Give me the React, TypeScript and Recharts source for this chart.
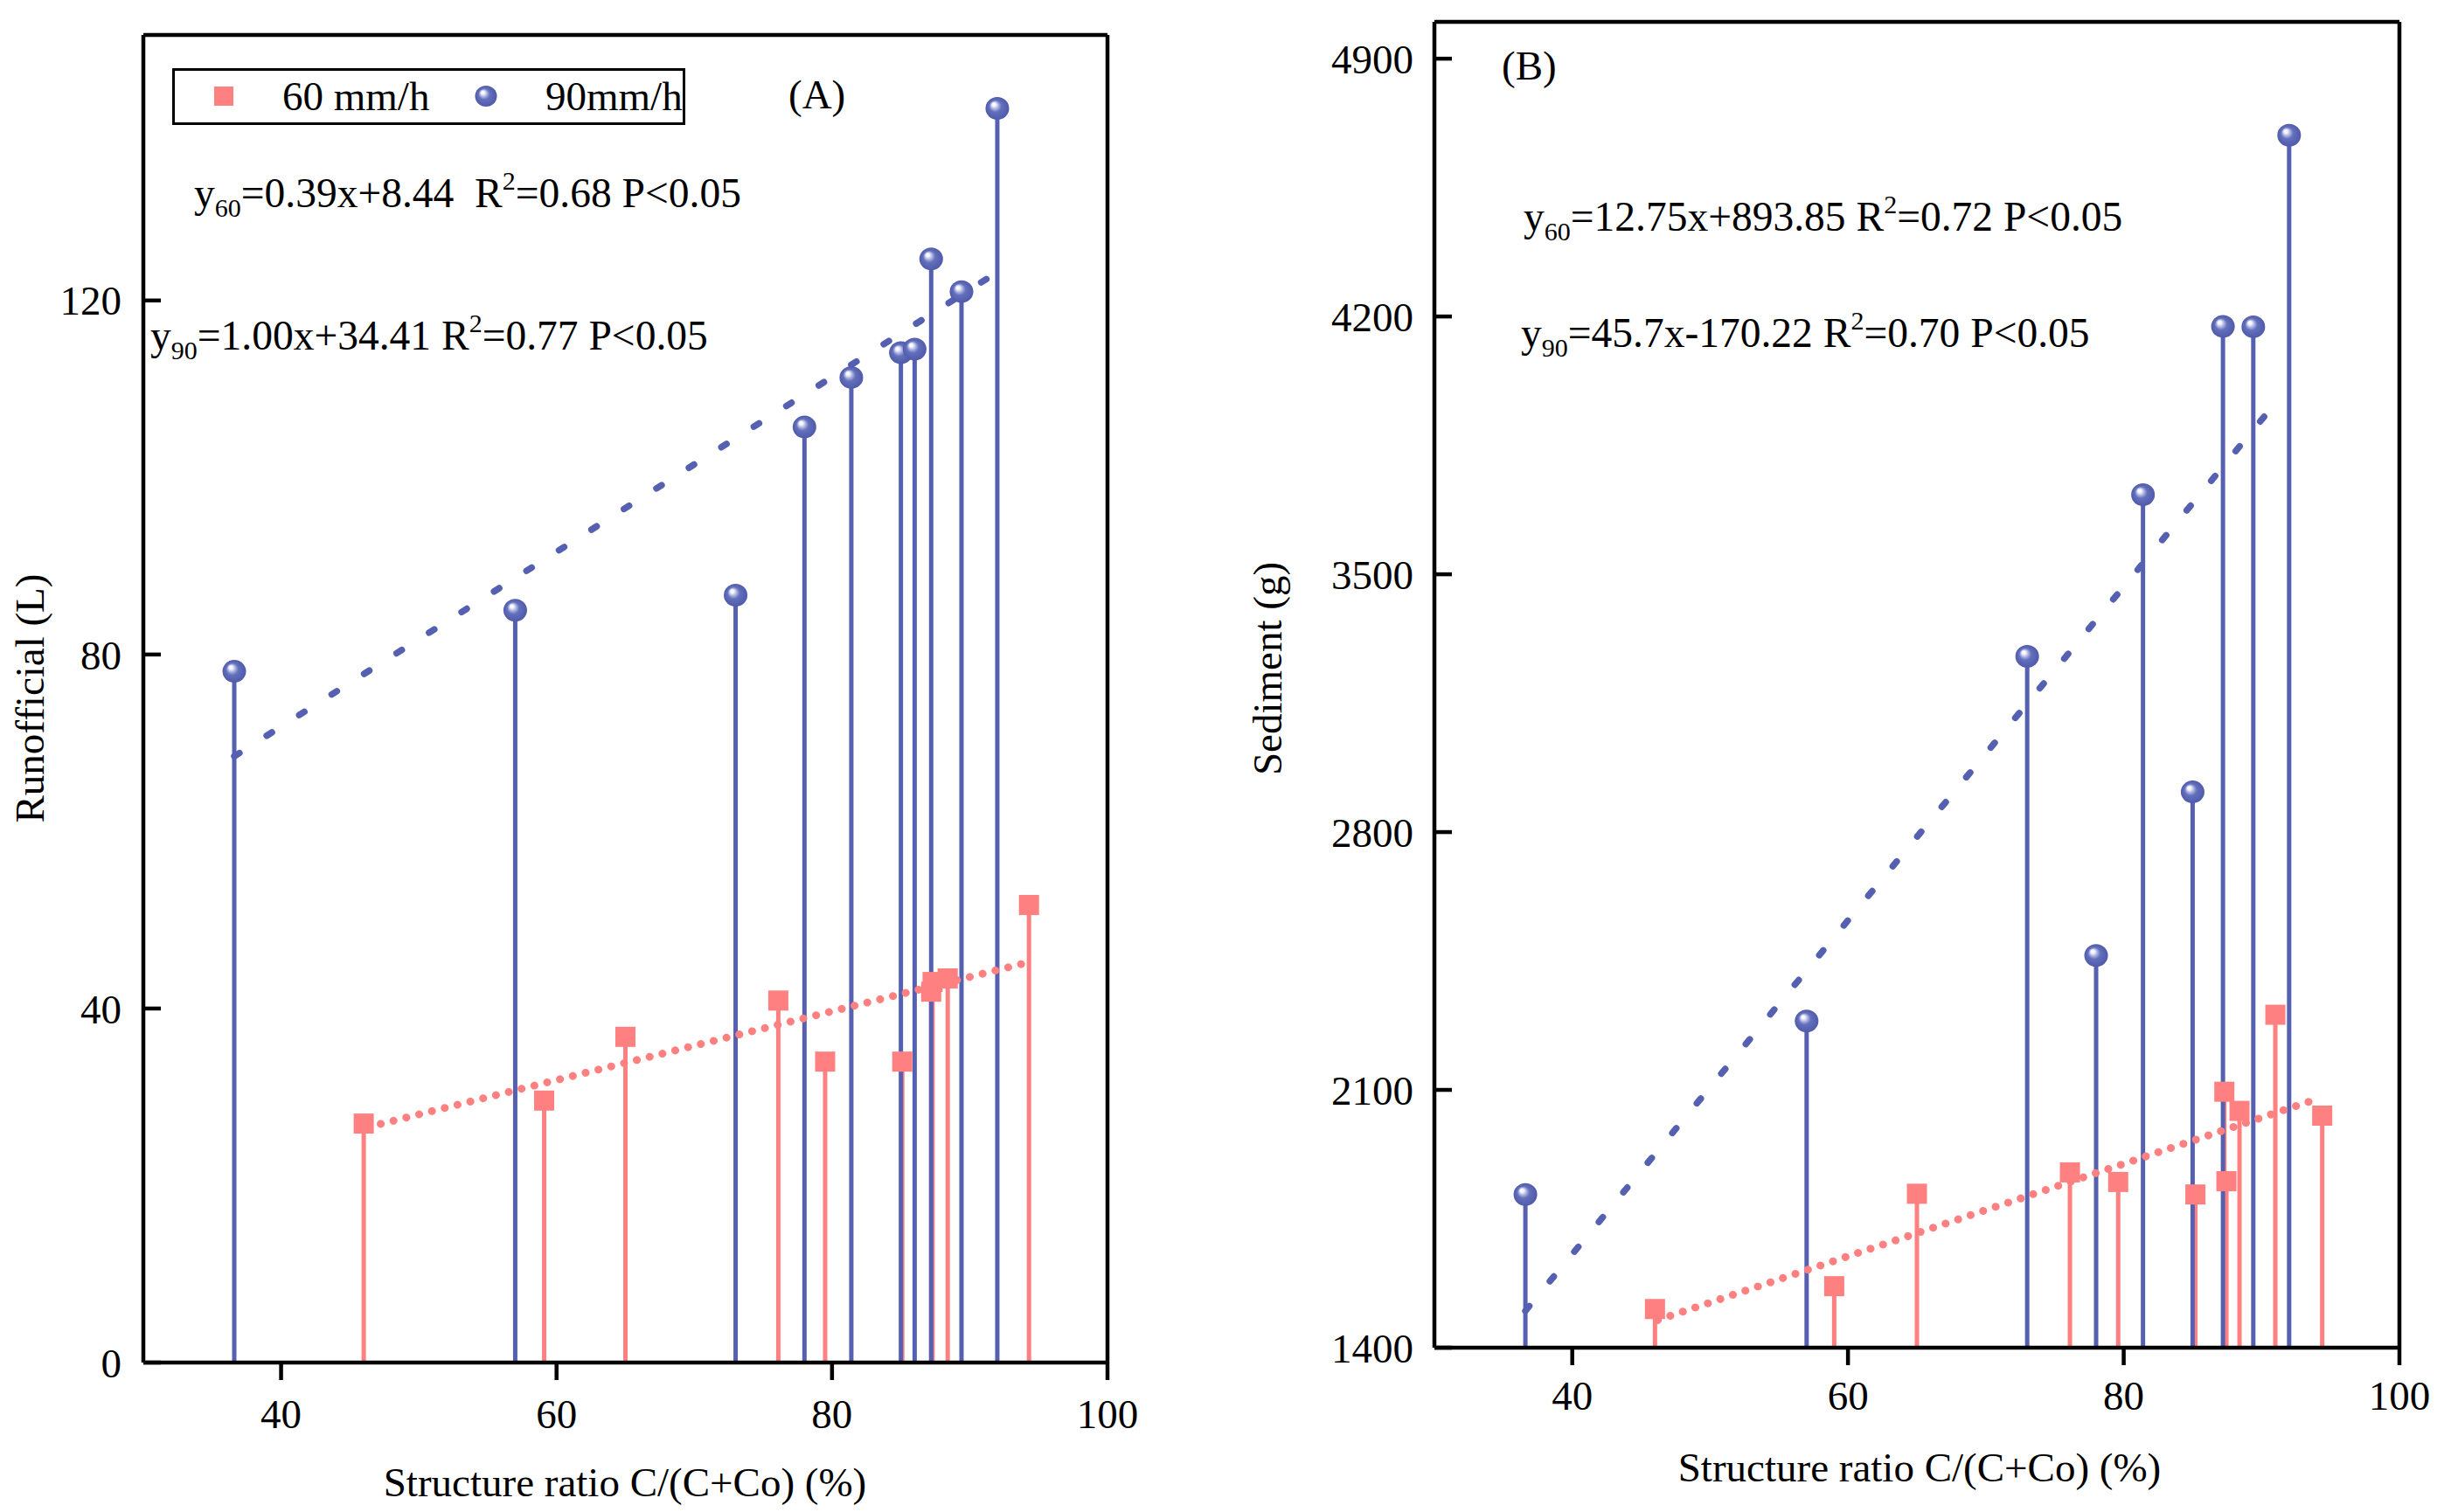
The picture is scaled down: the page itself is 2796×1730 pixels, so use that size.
import React from 'react';
import {
  ComposedChart, Scatter, Line, XAxis, YAxis, ReferenceLine, Legend
} from 'recharts';

// structure ratio C/(C+Co) (%) of the plots
const xBlueA = [36.6, 57.0, 73.0, 78.0, 81.4, 85.0, 86.0, 87.2, 89.4, 92.0];
const runoff90 = [78.1, 85.0, 86.7, 105.7, 111.3, 114.1, 114.5, 124.7, 121.0, 141.7];
const xRedA = [46.0, 59.1, 65.0, 76.1, 79.5, 85.1, 87.2, 87.3, 88.4, 94.3];
const runoff60 = [27.0, 29.6, 36.8, 40.9, 34.0, 34.0, 41.9, 43.0, 43.4, 51.7];

const xBlueB = [36.6, 57.0, 73.0, 78.0, 81.4, 85.0, 87.2, 89.4, 92.0];
const sediment90 = [1816, 2287, 3277, 2465, 3716, 2909, 4173, 4172, 4692];
const xRedB = [46.0, 59.0, 65.0, 76.1, 79.6, 85.2, 87.3, 87.45, 88.4, 91.0, 94.4];
const sediment60 = [1505, 1567, 1818, 1876, 1850, 1816, 2095, 1852, 2043, 2304, 2030];

// fitted lines as drawn (end points)
const fitXA90 = [36.6, 92.0];
const fitYA90 = [68.5, 123.2];
const fitXA60 = [46.3, 94.2];
const fitYA60 = [26.6, 45.2];
const fitXB90 = [36.6, 91.6];
const fitYB90 = [1500, 3992];
const fitXB60 = [46.2, 94.0];
const fitYB60 = [1475, 2075];

const xTicks = [40, 60, 80, 100];
const yTicksA = [0, 40, 80, 120];
const yTicksB = [1400, 2100, 2800, 3500, 4200, 4900];

const BLUE = '#5561b0';
const RED = '#ff8080';
const FONT = '"Liberation Serif", "Times New Roman", serif';
const FS = 47;

const toPoints = (xs: number[], ys: number[]) => xs.map((x, i) => ({ x, y: ys[i] }));

const Square = (props: any) => (
  <rect x={props.cx - 11.5} y={props.cy - 11.5} width={23} height={23} fill={RED} />
);

const Ball = (props: any) => (
  <ellipse cx={props.cx} cy={props.cy} rx={13.5} ry={13} fill="url(#ballGrad)" />
);

const LegendBox = () => (
  <svg width={587} height={65} style={{ display: 'block' }}>
    <rect x={1.5} y={1.5} width={584} height={62} fill="#fff" stroke="#000" strokeWidth={3} />
    <rect x={48} y={21} width={22} height={22} fill={RED} />
    <text x={126} y={48} fontFamily={FONT} fontSize={FS}>60 mm/h</text>
    <ellipse cx={359} cy={32} rx={12.5} ry={12} fill="url(#ballGrad)" />
    <text x={427} y={48} fontFamily={FONT} fontSize={FS}>90mm/h</text>
  </svg>
);

const Equation = ({ x, y, sub, body, tail }: any) => (
  <text x={x} y={y} fontFamily={FONT} fontSize={47.5} style={{ whiteSpace: 'pre' }}>
    y<tspan dy={11} fontSize={30}>{sub}</tspan>
    <tspan dy={-11}>{body}R</tspan>
    <tspan dy={-20} fontSize={30}>2</tspan>
    <tspan dy={20}>{tail}</tspan>
  </text>
);

const axisLine = { stroke: '#000', strokeWidth: 4.5 };
const tickStyle = { fontFamily: FONT, fontSize: FS, fill: '#000' };

interface PanelProps {
  width: number;
  margin: { top: number; right: number; bottom: number; left: number };
  yDomain: [number, number];
  yTicks: number[];
  xTickMargin: number;
  yTickMargin: number;
  red: { x: number; y: number }[];
  blue: { x: number; y: number }[];
  fit60: { x: number; y: number }[];
  fit90: { x: number; y: number }[];
  legend?: boolean;
}

const Panel: React.FC<PanelProps> = ({
  width, margin, yDomain, yTicks, xTickMargin, yTickMargin, red, blue, fit60, fit90, legend
}) => {
  const base = yDomain[0];
  return (
    <ComposedChart width={width} height={1730} margin={margin}>
      <XAxis
        dataKey="x" type="number" domain={[30, 100]} ticks={xTicks}
        height={60} tickSize={20} tickMargin={xTickMargin}
        axisLine={axisLine} tickLine={axisLine} tick={tickStyle}
      />
      <YAxis
        type="number" domain={yDomain} ticks={yTicks} width={100}
        tickSize={-20} tickMargin={yTickMargin}
        axisLine={axisLine} tickLine={axisLine} tick={tickStyle}
      />
      {/* top and right edges of the frame */}
      <ReferenceLine y={yDomain[1]} stroke="#000" strokeWidth={4.5} />
      <ReferenceLine x={100} stroke="#000" strokeWidth={4.5} />
      {red.map((p, i) => (
        <ReferenceLine
          key={`rs-${i}`}
          segment={[{ x: p.x, y: base }, { x: p.x, y: p.y }]}
          stroke={RED} strokeWidth={5}
        />
      ))}
      <Scatter name="60 mm/h" data={red} dataKey="y" shape={Square} isAnimationActive={false} />
      {blue.map((p, i) => (
        <ReferenceLine
          key={`bs-${i}`}
          segment={[{ x: p.x, y: base }, { x: p.x, y: p.y }]}
          stroke={BLUE} strokeWidth={5}
        />
      ))}
      <Scatter name="90mm/h" data={blue} dataKey="y" shape={Ball} isAnimationActive={false} />
      <Line
        data={fit90} dataKey="y" type="linear" stroke={BLUE} strokeWidth={7.5}
        strokeDasharray="7 37" strokeLinecap="round" dot={false} activeDot={false}
        legendType="none" isAnimationActive={false}
      />
      <Line
        data={fit60} dataKey="y" type="linear" stroke={RED} strokeWidth={9}
        strokeDasharray="0.1 15" strokeLinecap="round" dot={false} activeDot={false}
        legendType="none" isAnimationActive={false}
      />
      {legend && (
        <Legend
          layout="vertical" verticalAlign="middle" align="center"
          wrapperStyle={{ left: 197, top: 78, width: 587, height: 65 }}
          content={() => <LegendBox />}
        />
      )}
    </ComposedChart>
  );
};

export default function App() {
  return (
    <div style={{ position: 'absolute', left: 0, top: 0, width: 2796, height: 1730, background: '#fff' }}>
      <svg width={0} height={0} style={{ position: 'absolute' }}>
        <defs>
          <radialGradient id="ballGrad" cx="0.5" cy="0.5" r="0.5" fx="0.33" fy="0.3">
            <stop offset="0" stopColor="#ffffff" />
            <stop offset="0.16" stopColor="#f2f3fc" />
            <stop offset="0.34" stopColor="#a6addd" />
            <stop offset="0.52" stopColor="#6370bb" />
            <stop offset="1" stopColor="#4f5aab" />
          </radialGradient>
        </defs>
      </svg>
      <div style={{ position: 'absolute', left: 0, top: 0 }}>
        <Panel
          width={1400}
          margin={{ top: 40, right: 133, bottom: 111, left: 64 }}
          yDomain={[0, 150]} yTicks={yTicksA}
          xTickMargin={22} yTickMargin={45}
          red={toPoints(xRedA, runoff60)} blue={toPoints(xBlueA, runoff90)}
          fit60={toPoints(fitXA60, fitYA60)} fit90={toPoints(fitXA90, fitYA90)}
          legend
        />
      </div>
      <div style={{ position: 'absolute', left: 1400, top: 0 }}>
        <Panel
          width={1396}
          margin={{ top: 25, right: 51, bottom: 128, left: 141 }}
          yDomain={[1400, 5000]} yTicks={yTicksB}
          xTickMargin={18} yTickMargin={44}
          red={toPoints(xRedB, sediment60)} blue={toPoints(xBlueB, sediment90)}
          fit60={toPoints(fitXB60, fitYB60)} fit90={toPoints(fitXB90, fitYB90)}
        />
      </div>
      <svg width={2796} height={1730} style={{ position: 'absolute', left: 0, top: 0, pointerEvents: 'none' }}>
        <text x={902} y={124} fontFamily={FONT} fontSize={FS}>(A)</text>
        <text x={1718} y={91} fontFamily={FONT} fontSize={FS}>(B)</text>
        <Equation x={222} y={237} sub="60" body="=0.39x+8.44  " tail="=0.68 P<0.05" />
        <Equation x={172} y={400} sub="90" body="=1.00x+34.41 " tail="=0.77 P<0.05" />
        <Equation x={1743} y={264} sub="60" body="=12.75x+893.85 " tail="=0.72 P<0.05" />
        <Equation x={1740} y={397} sub="90" body="=45.7x-170.22 " tail="=0.70 P<0.05" />
        <text x={50} y={799} transform="rotate(-90 50 799)" textAnchor="middle" fontFamily={FONT} fontSize={FS}>
          Runofficial (L)
        </text>
        <text x={1466} y={765} transform="rotate(-90 1466 765)" textAnchor="middle" fontFamily={FONT} fontSize={FS}>
          Sediment (g)
        </text>
        <text x={715} y={1712} textAnchor="middle" fontFamily={FONT} fontSize={FS}>
          Structure ratio C/(C+Co) (%)
        </text>
        <text x={2196} y={1695} textAnchor="middle" fontFamily={FONT} fontSize={FS}>
          Structure ratio C/(C+Co) (%)
        </text>
      </svg>
    </div>
  );
}
